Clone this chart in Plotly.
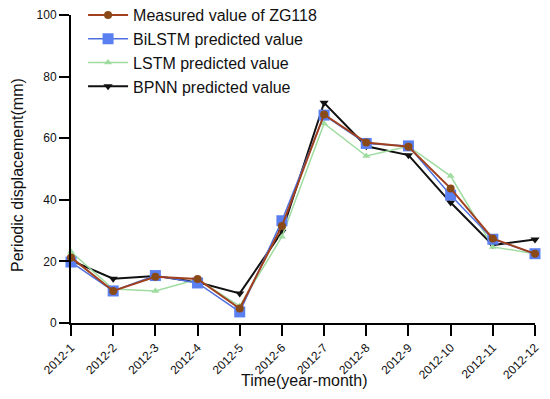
import plotly.graph_objects as go

months = ["2012-1", "2012-2", "2012-3", "2012-4", "2012-5", "2012-6",
          "2012-7", "2012-8", "2012-9", "2012-10", "2012-11", "2012-12"]
measured = [21.3, 10.4, 15.0, 14.3, 4.7, 31.5, 67.7, 58.6, 57.2, 43.7, 27.4, 22.5]
bilstm = [19.8, 10.4, 15.4, 13.0, 3.6, 33.2, 67.5, 58.3, 57.5, 41.5, 27.2, 22.5]
lstm = [23.1, 11.0, 10.4, 14.2, 5.5, 28.0, 64.8, 54.2, 57.4, 47.7, 24.7, 22.5]
bpnn = [20.3, 14.4, 15.3, 13.2, 9.6, 29.6, 71.5, 57.4, 54.5, 39.1, 25.3, 27.1]
y_ticks = [0, 20, 40, 60, 80, 100]

fig = go.Figure()
fig.add_trace(go.Scatter(x=months, y=bpnn, name="BPNN predicted value", mode="lines+markers",
                         line=dict(color="#111111", width=2),
                         marker=dict(symbol="triangle-down", size=8, color="#111111"),
                         legendrank=4, cliponaxis=False))
fig.add_trace(go.Scatter(x=months, y=lstm, name="LSTM predicted value", mode="lines+markers",
                         line=dict(color="#9fdca0", width=1.5),
                         marker=dict(symbol="triangle-up", size=7, color="#9fdca0"),
                         legendrank=3, cliponaxis=False))
fig.add_trace(go.Scatter(x=months, y=bilstm, name="BiLSTM predicted value", mode="lines+markers",
                         line=dict(color="#4f6fe0", width=1.5),
                         marker=dict(symbol="square", size=11, color="#5a7ff0"),
                         legendrank=2, cliponaxis=False))
fig.add_trace(go.Scatter(x=months, y=measured, name="Measured value of ZG118", mode="lines+markers",
                         line=dict(color="#a0401e", width=2),
                         marker=dict(symbol="circle", size=8, color="#8a4a18"),
                         legendrank=1, cliponaxis=False))

fig.update_layout(
    width=550, height=399,
    margin=dict(l=63, r=23, t=7, b=84, autoexpand=False),
    paper_bgcolor="white", plot_bgcolor="white",
    font=dict(family="Liberation Sans, Arial, sans-serif", color="#111111"),
    legend=dict(x=0.026, y=1.055, xanchor="left", yanchor="top",
                bgcolor="rgba(0,0,0,0)", font=dict(size=16), itemwidth=40,
                tracegroupgap=0),
    showlegend=True,
)
fig.update_xaxes(
    type="category", range=[0, 11], showgrid=False, zeroline=False, automargin=False,
    showline=True, linecolor="black", linewidth=2,
    ticks="outside", ticklen=11, tickwidth=2, tickcolor="black",
    tickangle=-45, tickfont=dict(size=12, color="#111111"),
)
fig.update_yaxes(
    range=[0, 100], tickvals=y_ticks, showgrid=False, zeroline=False, automargin=False,
    showline=True, linecolor="black", linewidth=2,
    ticks="outside", ticklen=10, tickwidth=2, tickcolor="black",
    tickfont=dict(size=12, color="#111111"),
)
fig.add_annotation(text="Time(year-month)", xref="paper", yref="paper", x=0.504, y=0,
                   yshift=-57, xanchor="center", yanchor="middle", showarrow=False,
                   font=dict(size=16, color="#111111"))
fig.add_annotation(text="Periodic displacement(mm)", xref="paper", yref="paper", x=0, y=0.4805,
                   xshift=-54, xanchor="center", yanchor="middle", textangle=-90, showarrow=False,
                   font=dict(size=16, color="#111111"))

fig.write_html("out.html")
